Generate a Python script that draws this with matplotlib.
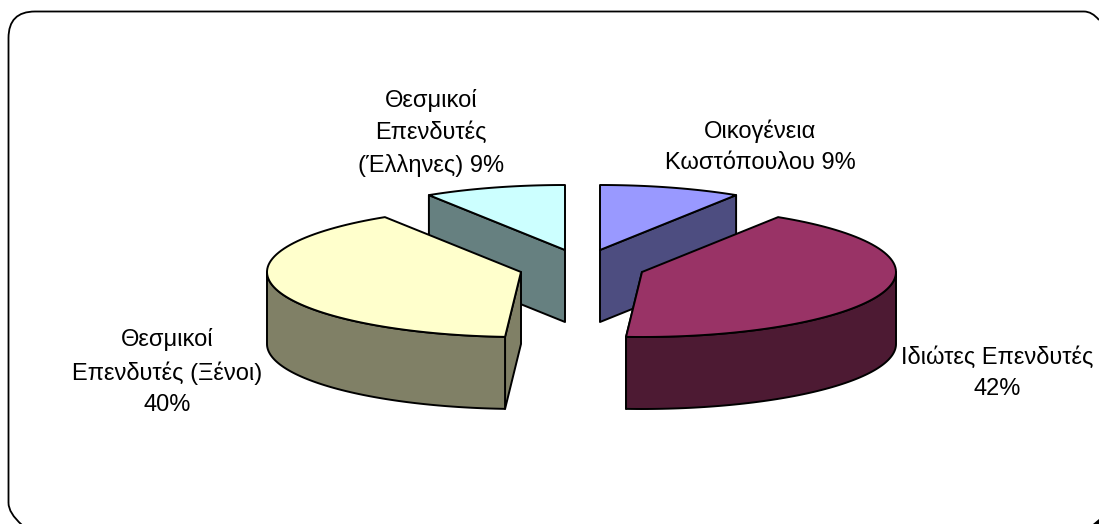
import numpy as np
import matplotlib
matplotlib.use("Agg")
import matplotlib.pyplot as plt
from matplotlib.patches import Polygon, PathPatch
from matplotlib.path import Path

labels = ["Οικογένεια\nΚωστόπουλου 9%", "Ιδιώτες Επενδυτές\n42%",
          "Θεσμικοί\nΕπενδυτές (Ξένοι)\n40%", "Θεσμικοί\nΕπενδυτές\n(Έλληνες) 9%"]
values = [9, 42, 40, 9]
top_colors = ["#9999FF", "#993366", "#FFFFCC", "#CCFFFF"]
side_colors = ["#4D4D80", "#4D1A33", "#808066", "#668080"]
tips = [(600, 250), (642, 272), (521, 272), (565, 250)]
label_xy = [(760, 147), (997, 373), (167.5, 372), (431, 133)]

RX, RY, H = 254, 65, 72
W, HT = 1099, 524

plt.rcParams["font.family"] = ["Liberation Sans", "DejaVu Sans"]
fig = plt.figure(figsize=(W / 100, HT / 100), dpi=100)
ax = fig.add_axes([0, 0, 1, 1])
ax.set_xlim(0, W); ax.set_ylim(HT, 0); ax.axis("off")

# rounded frame, running off the right and bottom of the picture
L, T = 8.5, 11.5
frame = Path([(L, 503), (L, 38), (L, T), (35, T), (1084, T), (1092, T), (1099, 20)],
             [Path.MOVETO, Path.LINETO, Path.CURVE3, Path.CURVE3, Path.LINETO, Path.CURVE3, Path.CURVE3])
ax.add_patch(PathPatch(frame, fc="none", ec="black", lw=1.3, zorder=1))
foot = Path([(L, 503), (L, 513), (22, 525)], [Path.MOVETO, Path.CURVE3, Path.CURVE3])
ax.add_patch(PathPatch(foot, fc="none", ec="black", lw=1.3, zorder=1))
ax.add_patch(Polygon([(1093, 524), (1099, 519), (1099, 524)], fc="black", ec="none", zorder=1))

bounds = np.cumsum([0] + values) / sum(values) * 2 * np.pi


def pt(c, t, dz=0):
    return c[0] + RX * np.sin(t), c[1] - RY * np.cos(t) + dz


def arc(c, a, b, dz=0):
    t = np.linspace(a, b, 80)
    return np.column_stack(pt(c, t, dz))


kw = dict(ec="black", lw=1.4, joinstyle="round")
# back slices first, then the large ones in front
for z, i in enumerate([0, 3, 1, 2]):
    zo = 2 + z
    c, a, b = tips[i], bounds[i], bounds[i + 1]
    tip = np.array([c])
    down = np.array([[c[0], c[1] + H]])
    # flat cut face that the viewer can see
    e = {0: b, 1: b, 2: a, 3: a}[i]
    p = np.array(pt(c, e))
    face = np.vstack([tip, [p], [p + [0, H]], down])
    ax.add_patch(Polygon(face, fc=side_colors[i], zorder=zo, **kw))
    # outer rim, only where it faces the viewer
    lo, hi = max(a, np.pi / 2), min(b, 3 * np.pi / 2)
    if hi > lo:
        rim = np.vstack([arc(c, lo, hi), arc(c, lo, hi, H)[::-1]])
        ax.add_patch(Polygon(rim, fc=side_colors[i], zorder=zo, **kw))
    ax.add_patch(Polygon(np.vstack([tip, arc(c, a, b)]), fc=top_colors[i], zorder=zo, **kw))

for (x, y), s in zip(label_xy, labels):
    ax.text(x, y, s, ha="center", va="center", fontsize=17, linespacing=1.55,
            color="black", zorder=10)

fig.savefig("out.png", dpi=100)
